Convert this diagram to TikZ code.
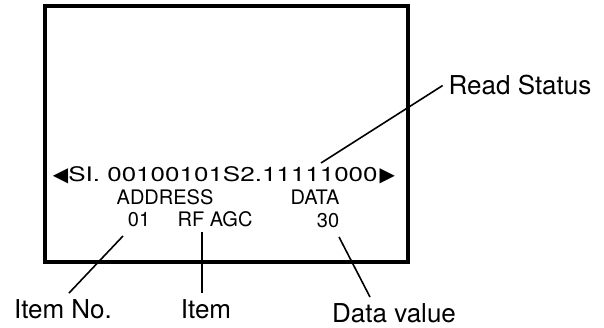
\documentclass[tikz,border=0pt]{standalone}
\usepackage{fontspec}
\setmainfont{TeX Gyre Heros}
\newfontfamily\osdfont[FakeStretch=1.3]{TeX Gyre Heros}
\newfontfamily\arrowfont{DejaVu Sans}
\newcommand{\osdtri}[1]{{\arrowfont\fontsize{20}{20}\selectfont #1}}

\tikzstyle{screen}=[draw, line width = 4pt]
\tikzstyle{osd}=[inner sep = 0pt, anchor = base, font = \osdfont\fontsize{20}{24}\selectfont]
\tikzstyle{field}=[inner sep = 0pt, anchor = base, font = \fontsize{20}{24}\selectfont]
\tikzstyle{callout}=[inner sep = 3pt, outer sep = 3pt, anchor = base, font = \fontsize{26}{30}\selectfont]
\tikzstyle{pointer}=[line width = 1.6pt]

\begin{document}
\begin{tikzpicture}[x = 1pt, y = -1pt]
\useasboundingbox (0,0) rectangle (604,328);
\draw[screen] (45,6) rectangle (408,262);
%
\draw (224,182) node[osd](status){\osdtri{◀}SI. 00100101S2.11111000\hspace{2pt}\osdtri{▶}};
\draw (165,205) node[field](addr){ADDRESS};
\draw (315,205) node[field](data){DATA};
\draw (139,227) node[field](itemno){01};
\draw (215,227) node[field](item){RF AGC};
\draw (328,228) node[field](value){30};
%
\draw (520,95) node[callout](readlbl){Read Status};
\draw (63,318) node[callout](itemnolbl){Item No.};
\draw (206,318) node[callout](itemlbl){Item};
\draw (394,322) node[callout](valuelbl){Data value};
%
\coordinate (readpt) at (321,163);
\coordinate (itemnopt) at (123,236);
\coordinate (itempt) at (202,232);
\coordinate (valuept) at (339,237);
\draw[pointer] (readpt) -- (readlbl.west);
\draw[pointer] (itemnopt) -- ([xshift = 6pt]itemnolbl.north);
\draw[pointer] (itempt) -- (itempt |- itemlbl.north); % straight down
\draw[pointer] (valuept) -- ([xshift = -24pt]valuelbl.north);
\end{tikzpicture}
\end{document}
